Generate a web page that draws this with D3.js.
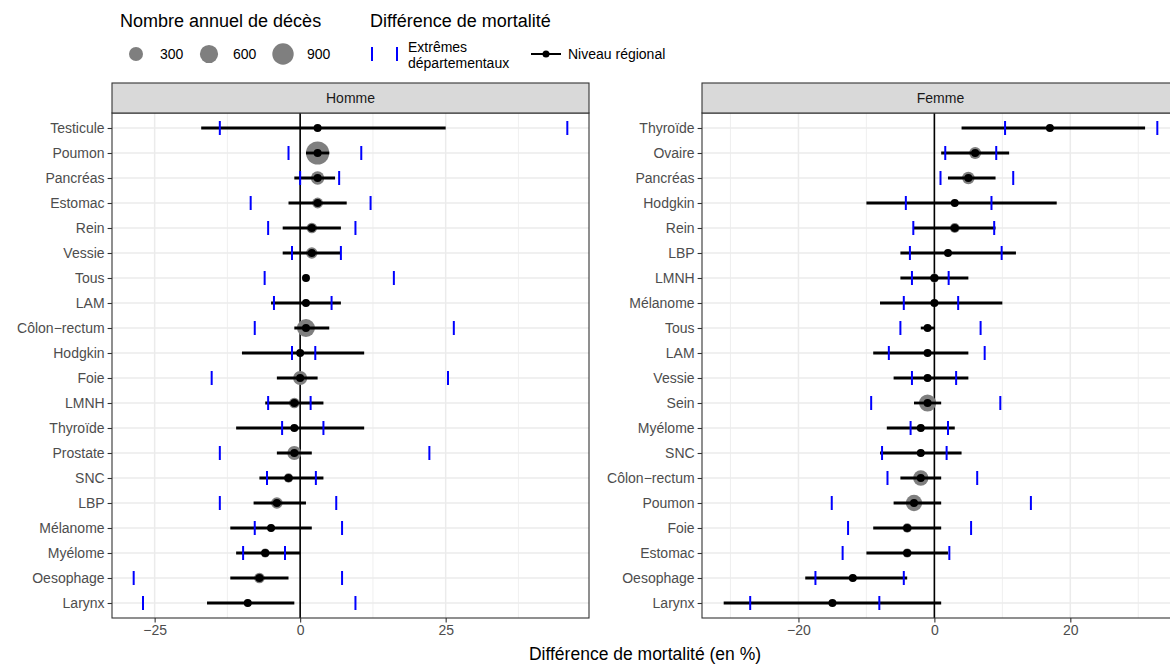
<!DOCTYPE html>
<html>
<head>
<meta charset="utf-8">
<script src="https://cdn.jsdelivr.net/npm/d3@7"></script>
<style>
  body { margin: 0; background: #fff; }
  svg text { font-family: "Liberation Sans", Arial, Helvetica, sans-serif; }
</style>
</head>
<body>
<div id="chart"></div>
<script>
// data (differences in %)

var cancersHomme = ["Testicule", "Poumon", "Pancréas", "Estomac", "Rein", "Vessie", "Tous", "LAM", "Côlon−rectum", "Hodgkin",
  "Foie", "LMNH", "Thyroïde", "Prostate", "SNC", "LBP", "Mélanome", "Myélome", "Oesophage", "Larynx"];
var estHomme    = [3, 3, 3, 3, 2, 2, 1, 1, 1, 0, 0, -1, -1, -1, -2, -4, -5, -6, -7, -9];
var lowHomme    = [-17, 1, -1, -2, -3, -3, 1, -5, -1, -10, -4, -6, -11, -4, -7, -8, -12, -11, -12, -16];
var highHomme   = [25, 5, 6, 8, 7, 7, 1, 7, 5, 11, 3, 4, 11, 2, 4, 1, 2, 0, -2, -1];
var minDepHomme = [-13.8, -2.0, 0.0, -8.5, -5.5, -1.4, -6.1, -4.5, -7.8, -1.4, -15.2, -5.5, -3.1, -13.8, -5.7, -13.8, -7.8, -9.8, -28.6, -27.0];
var maxDepHomme = [45.9, 10.5, 6.7, 12.1, 9.5, 7.0, 16.1, 5.4, 26.4, 2.6, 25.4, 1.8, 4.0, 22.2, 2.7, 6.2, 7.2, -2.6, 7.2, 9.5];
var decesHomme  = [10, 1100, 260, 140, 130, 160, null, 15, 580, 10, 300, 130, 10, 300, 90, 170, 30, 70, 130, 30];

var cancersFemme = ["Thyroïde", "Ovaire", "Pancréas", "Hodgkin", "Rein", "LBP", "LMNH", "Mélanome", "Tous", "LAM",
  "Vessie", "Sein", "Myélome", "SNC", "Côlon−rectum", "Poumon", "Foie", "Estomac", "Oesophage", "Larynx"];
var estFemme    = [17, 6, 5, 3, 3, 2, 0, 0, -1, -1, -1, -1, -2, -2, -2, -3, -4, -4, -12, -15];
var lowFemme    = [4, 1, 2, -10, -3, -5, -5, -8, -2, -9, -6, -3, -7, -8, -5, -6, -9, -10, -19, -31];
var highFemme   = [31, 11, 9, 18, 9, 12, 5, 10, 0, 5, 5, 1, 3, 4, 1, 1, 1, 2, -4, 1];
var minDepFemme = [10.4, 1.6, 0.9, -4.2, -3.1, -3.6, -3.3, -4.5, -5.0, -6.7, -3.3, -9.3, -3.5, -7.7, -6.9, -15.1, -12.7, -13.5, -17.5, -27.1];
var maxDepFemme = [32.8, 9.1, 11.6, 8.4, 8.8, 9.9, 2.1, 3.5, 6.8, 7.4, 3.2, 9.7, 2.0, 1.8, 6.3, 14.2, 5.4, 2.2, -4.5, -8.1];
var decesFemme  = [10, 190, 210, 5, 100, 20, 70, 20, null, 20, 30, 520, 30, 30, 380, 450, 90, 75, 30, 5];

var ticksHomme = [-25, 0, 25];
var ticksFemme = [-20, 0, 20];
var legendSizes = [300, 600, 900];

var W = 1170, H = 666;
var panelTop = 113, panelBottom = 618, panelWidth = 477;

var svg = d3.select("#chart").append("svg")
  .attr("width", W)
  .attr("height", H);

// size of the grey circles (annual deaths)
var rScale = d3.scalePow().exponent(0.5).domain([0, 900]).range([2, 10.7]);

function drawPanel(left, title, cancers, est, low, high, minDep, maxDep, deces, ticks) {
  var ext = d3.extent(low.concat(high, minDep, maxDep, est));
  var pad = (ext[1] - ext[0]) * 0.05;

  var x = d3.scaleLinear()
    .domain([ext[0] - pad, ext[1] + pad])
    .range([left, left + panelWidth]);

  var y = d3.scalePoint()
    .domain(cancers)
    .range([panelTop, panelBottom])
    .padding(0.6);

  var rows = cancers.map(function (c, i) {
    return { name: c, est: est[i], low: low[i], high: high[i], min: minDep[i], max: maxDep[i], deces: deces[i] };
  });

  var g = svg.append("g");

  g.append("clipPath").attr("id", "clip" + title)
    .append("rect")
    .attr("x", left).attr("y", panelTop)
    .attr("width", panelWidth).attr("height", panelBottom - panelTop);

  var plot = g.append("g").attr("clip-path", "url(#clip" + title + ")");

  // minor grid (half way between major ticks)
  var step = ticks[1] - ticks[0];
  var minors = d3.range(ticks[0] - step, ticks[ticks.length - 1] + step, step)
    .map(function (t) { return t + step / 2; })
    .filter(function (t) { return t > x.domain()[0] && t < x.domain()[1]; });

  plot.selectAll(".minor").data(minors).enter().append("line")
    .attr("x1", function (d) { return x(d); }).attr("x2", function (d) { return x(d); })
    .attr("y1", panelTop).attr("y2", panelBottom)
    .style("stroke", "#ebebeb").style("stroke-width", 0.8);

  plot.selectAll(".major").data(ticks).enter().append("line")
    .attr("x1", function (d) { return x(d); }).attr("x2", function (d) { return x(d); })
    .attr("y1", panelTop).attr("y2", panelBottom)
    .style("stroke", "#ebebeb").style("stroke-width", 1.5);

  plot.selectAll(".hgrid").data(cancers).enter().append("line")
    .attr("x1", left).attr("x2", left + panelWidth)
    .attr("y1", function (d) { return y(d); }).attr("y2", function (d) { return y(d); })
    .style("stroke", "#ebebeb").style("stroke-width", 1.5);

  // zero line
  plot.append("line")
    .attr("x1", x(0)).attr("x2", x(0))
    .attr("y1", panelTop).attr("y2", panelBottom)
    .style("stroke", "black").style("stroke-width", 1.6);

  plot.selectAll(".size").data(rows.filter(function (d) { return d.deces != null; })).enter().append("circle")
    .attr("cx", function (d) { return x(d.est); })
    .attr("cy", function (d) { return y(d.name); })
    .attr("r", function (d) { return rScale(d.deces); })
    .style("fill", "#7f7f7f");

  plot.selectAll(".ci").data(rows).enter().append("line")
    .attr("x1", function (d) { return x(d.low); })
    .attr("x2", function (d) { return x(d.high); })
    .attr("y1", function (d) { return y(d.name); })
    .attr("y2", function (d) { return y(d.name); })
    .style("stroke", "black").style("stroke-width", 2.8);

  // departmental extremes
  var ext2 = [];
  rows.forEach(function (d) {
    ext2.push({ name: d.name, v: d.min });
    ext2.push({ name: d.name, v: d.max });
  });
  plot.selectAll(".dep").data(ext2).enter().append("line")
    .attr("x1", function (d) { return x(d.v); })
    .attr("x2", function (d) { return x(d.v); })
    .attr("y1", function (d) { return y(d.name) - 7; })
    .attr("y2", function (d) { return y(d.name) + 7; })
    .style("stroke", "blue").style("stroke-width", 2);

  plot.selectAll(".pt").data(rows).enter().append("circle")
    .attr("cx", function (d) { return x(d.est); })
    .attr("cy", function (d) { return y(d.name); })
    .attr("r", 4)
    .style("fill", "black");

  // panel border
  g.append("rect")
    .attr("x", left).attr("y", panelTop)
    .attr("width", panelWidth).attr("height", panelBottom - panelTop)
    .style("fill", "none").style("stroke", "#333333").style("stroke-width", 1.1);

  // strip
  g.append("rect")
    .attr("x", left).attr("y", 83)
    .attr("width", panelWidth).attr("height", panelTop - 83)
    .style("fill", "#d9d9d9").style("stroke", "#333333").style("stroke-width", 1.1);
  g.append("text")
    .attr("x", left + panelWidth / 2).attr("y", 103)
    .attr("text-anchor", "middle")
    .style("font-size", "14px").style("fill", "#1a1a1a")
    .text(title);

  var xAxis = d3.axisBottom(x).tickValues(ticks).tickSize(4.4).tickPadding(3);
  var gx = g.append("g")
    .attr("transform", "translate(0," + panelBottom + ")")
    .call(xAxis);

  var yAxis = d3.axisLeft(y).tickSize(4.4).tickPadding(3);
  var gy = g.append("g")
    .attr("transform", "translate(" + left + ",0)")
    .call(yAxis);

  [gx, gy].forEach(function (a) {
    a.select(".domain").remove();
    a.selectAll("line").style("stroke", "#333333").style("stroke-width", 1.1);
    a.selectAll("text").style("font-size", "14px").style("fill", "#4d4d4d")
      .style("font-family", "'Liberation Sans', Arial, sans-serif");
  });
}

drawPanel(112, "Homme", cancersHomme, estHomme, lowHomme, highHomme, minDepHomme, maxDepHomme, decesHomme, ticksHomme);
drawPanel(702, "Femme", cancersFemme, estFemme, lowFemme, highFemme, minDepFemme, maxDepFemme, decesFemme, ticksFemme);

svg.append("text")
  .attr("x", 645).attr("y", 660)
  .attr("text-anchor", "middle")
  .style("font-size", "17.5px")
  .text("Différence de mortalité (en %)");

// legends
var leg = svg.append("g");

leg.append("text").attr("x", 120).attr("y", 27)
  .style("font-size", "18px")
  .text("Nombre annuel de décès");

var keyX = [136, 209, 283];
leg.selectAll(".lk").data(legendSizes).enter().append("circle")
  .attr("cx", function (d, i) { return keyX[i]; })
  .attr("cy", 54)
  .attr("r", function (d) { return rScale(d); })
  .style("fill", "#7f7f7f");
leg.selectAll(".lt").data(legendSizes).enter().append("text")
  .attr("x", function (d, i) { return keyX[i] + 24; })
  .attr("y", 59)
  .style("font-size", "14px")
  .text(function (d) { return d; });

leg.append("text").attr("x", 370).attr("y", 27)
  .style("font-size", "18px")
  .text("Différence de mortalité");

[372, 397].forEach(function (xx) {
  leg.append("line")
    .attr("x1", xx).attr("x2", xx)
    .attr("y1", 47).attr("y2", 61)
    .style("stroke", "blue").style("stroke-width", 2);
});
leg.append("text").attr("x", 408).attr("y", 52).style("font-size", "14px").text("Extrêmes");
leg.append("text").attr("x", 408).attr("y", 68).style("font-size", "14px").text("départementaux");

leg.append("line")
  .attr("x1", 531).attr("x2", 561)
  .attr("y1", 54).attr("y2", 54)
  .style("stroke", "black").style("stroke-width", 2);
leg.append("circle").attr("cx", 546).attr("cy", 54).attr("r", 3.5).style("fill", "black");
leg.append("text").attr("x", 568).attr("y", 59).style("font-size", "14px").text("Niveau régional");
</script>
</body>
</html>
